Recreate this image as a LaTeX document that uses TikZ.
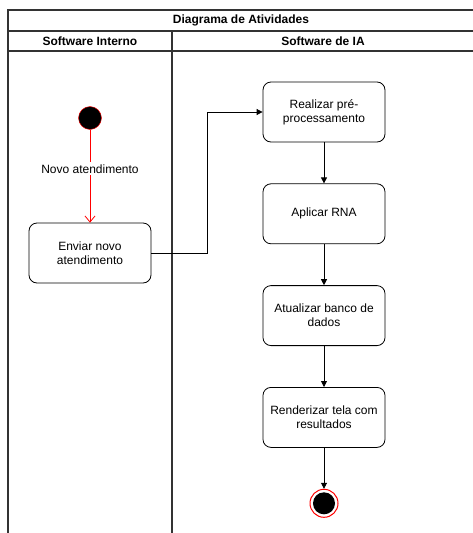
\documentclass[tikz,border=0pt]{standalone}
\usepackage{fontspec}
\setmainfont{Liberation Sans}
\usetikzlibrary{positioning,arrows.meta}

\begin{document}
\begin{tikzpicture}[
  x=1pt, y=-1pt,
  font=\fontsize{12}{14}\selectfont,
  activity/.style={draw, rounded corners=8pt, align=center,
                   minimum width=122pt, minimum height=60pt, line width=0.8pt},
  initial/.style={circle, draw=red, fill=black, minimum size=23pt, inner sep=0pt},
  final/.style={circle, draw=red, fill=white, line width=1pt, minimum size=28pt, inner sep=0pt,
                path picture={\fill[black] (path picture bounding box.center) circle (11pt);}},
  lane/.style={draw=black!80, line width=1.1pt},
  head/.style={font=\fontsize{12}{14}\selectfont\bfseries},
  arr/.style={-{Triangle[length=6pt,width=6pt]}, line width=0.8pt},
  redarr/.style={-{Straight Barb[length=6pt,width=10pt]}, draw=red, line width=0.8pt},
  node distance=41pt]
\useasboundingbox (0,0) rectangle (472,533);
% swimlanes
\draw[lane] (8,533) -- (8,10) -- (475,10);
\draw[lane] (8,31) -- (475,31);
\draw[lane] (8,51) -- (475,51);
\draw[lane] (172,31) -- (172,533);
\node[head] (title) at (241,20.5) {Diagrama de Atividades};
\node[head] (intern) at (90,41) {Software Interno};
\node[head] (ia) at (323,41) {Software de IA};
% activities
\node[initial] (start) at (90,118) {};
\node[activity] (env) at (90,253) {Enviar novo\\atendimento};
\node[activity] (prep) at (324,112) {Realizar pré-\\processamento};
\node[activity, below=of prep] (rna) {Aplicar RNA};
\node[activity, below=of rna] (banco) {Atualizar banco de\\dados};
\node[activity, below=of banco] (tela) {Renderizar tela com\\resultados};
\node[final, below=of tela] (stop) {};
\draw[redarr] (start) -- node[pos=0.42, fill=white, inner sep=2pt] {Novo atendimento} (env);
\draw[arr] (env.east) -- ++(56,0) |- (prep.west);
\draw[arr] (prep) -- (rna);
\draw[arr] (rna) -- (banco);
\draw[arr] (banco) -- (tela);
\draw[arr] (tela) -- (stop);
\end{tikzpicture}
\end{document}
